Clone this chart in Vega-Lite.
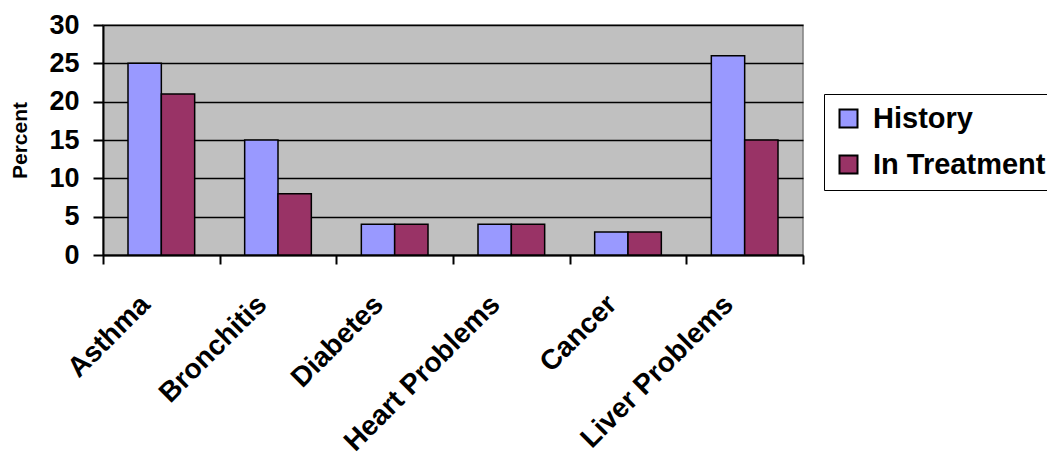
{
  "$schema": "https://vega.github.io/schema/vega-lite/v6.json",
  "width": 700,
  "height": 230,
  "autosize": {"type": "none"},
  "padding": {"left": 103, "top": 25, "right": 244, "bottom": 202},
  "background": "white",
  "config": {
    "font": "Liberation Sans",
    "view": {"fill": "#C0C0C0", "stroke": "#808080", "strokeWidth": 1.5}
  },
  "data": {
    "values": [
      {"condition": "Asthma", "series": "History", "percent": 25},
      {"condition": "Asthma", "series": "In Treatment", "percent": 21},
      {"condition": "Bronchitis", "series": "History", "percent": 15},
      {"condition": "Bronchitis", "series": "In Treatment", "percent": 8},
      {"condition": "Diabetes", "series": "History", "percent": 4},
      {"condition": "Diabetes", "series": "In Treatment", "percent": 4},
      {"condition": "Heart Problems", "series": "History", "percent": 4},
      {"condition": "Heart Problems", "series": "In Treatment", "percent": 4},
      {"condition": "Cancer", "series": "History", "percent": 3},
      {"condition": "Cancer", "series": "In Treatment", "percent": 3},
      {"condition": "Liver Problems", "series": "History", "percent": 26},
      {"condition": "Liver Problems", "series": "In Treatment", "percent": 15}
    ]
  },
  "mark": {"type": "bar", "stroke": "black", "strokeWidth": 1.5},
  "encoding": {
    "x": {
      "field": "condition",
      "type": "nominal",
      "sort": null,
      "scale": {"paddingInner": 0, "paddingOuter": 0},
      "axis": {
        "title": null,
        "tickBand": "extent",
        "labelAngle": -45,
        "labelAlign": "right",
        "labelBaseline": "middle",
        "labelFontSize": 28,
        "labelFontWeight": "bold",
        "labelColor": "black",
        "labelPadding": 36,
        "labelOffset": -16,
        "labelLimit": 400,
        "labelOverlap": false,
        "tickColor": "black",
        "tickSize": 9,
        "tickWidth": 2,
        "domainColor": "black",
        "domainWidth": 2,
        "grid": false
      }
    },
    "xOffset": {
      "field": "series",
      "type": "nominal",
      "scale": {"paddingInner": 0, "paddingOuter": 0.75}
    },
    "y": {
      "field": "percent",
      "type": "quantitative",
      "scale": {"domain": [0, 30]},
      "axis": {
        "title": "Percent",
        "titleFontSize": 21,
        "titleFontWeight": "bold",
        "titleColor": "black",
        "titlePadding": 18,
        "values": [0, 5, 10, 15, 20, 25, 30],
        "labelFontSize": 27,
        "labelFontWeight": "bold",
        "labelColor": "black",
        "labelPadding": 14,
        "ticks": true,
        "tickColor": "black",
        "tickSize": 10,
        "tickWidth": 2,
        "domain": true,
        "domainColor": "black",
        "domainWidth": 2,
        "grid": true,
        "gridColor": "black",
        "gridWidth": 1.5
      }
    },
    "color": {
      "field": "series",
      "type": "nominal",
      "scale": {"domain": ["History", "In Treatment"], "range": ["#9999FF", "#993366"]},
      "legend": {
        "title": null,
        "orient": "none",
        "legendX": 721,
        "legendY": 69,
        "symbolType": "square",
        "symbolSize": 324,
        "symbolStrokeColor": "black",
        "symbolStrokeWidth": 2,
        "symbolOpacity": 1,
        "labelFontSize": 29,
        "labelFontWeight": "bold",
        "labelColor": "black",
        "labelOffset": 10,
        "rowPadding": 16,
        "padding": 10,
        "strokeColor": "black",
        "fillColor": "white",
        "labelLimit": 400
      }
    }
  }
}
